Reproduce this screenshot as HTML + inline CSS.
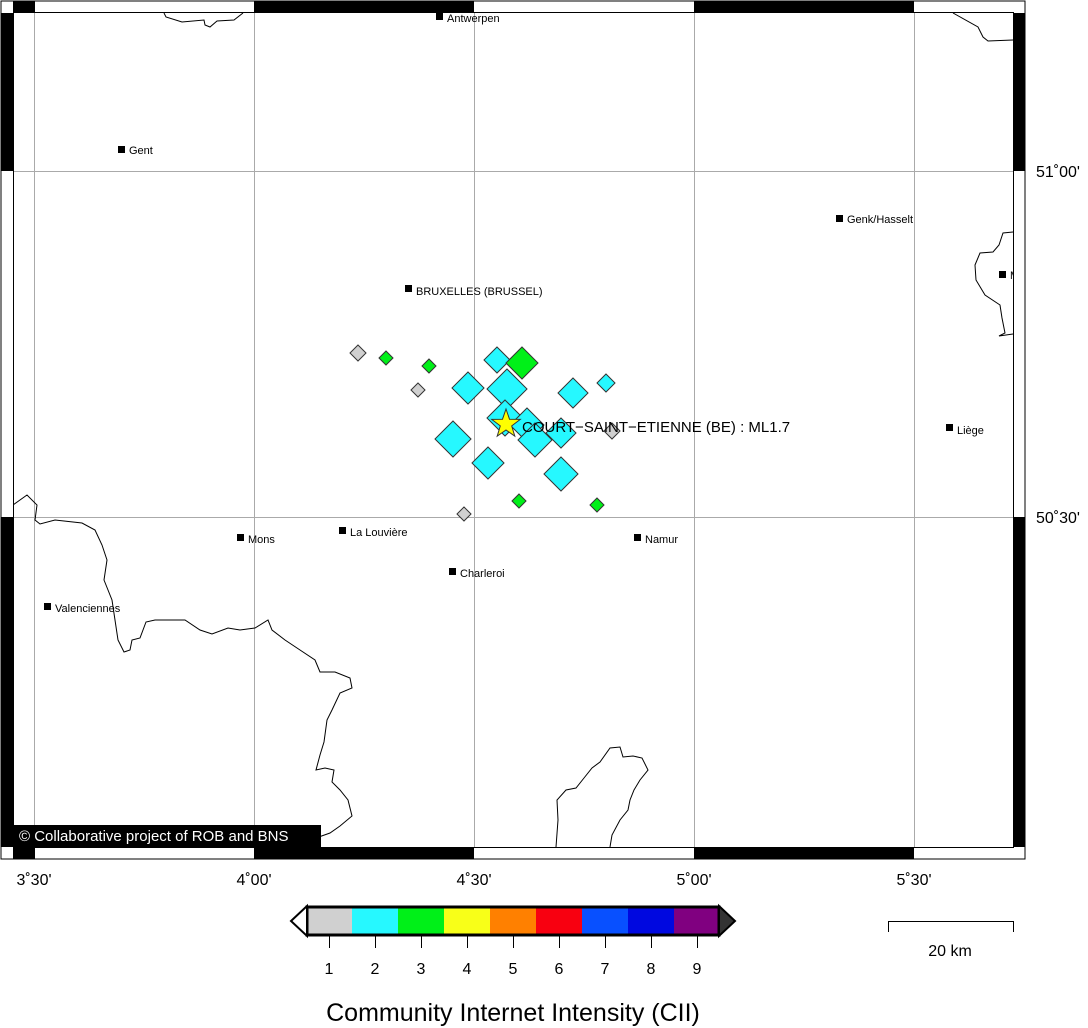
<!DOCTYPE html>
<html><head><meta charset="utf-8"><style>
html,body{margin:0;padding:0;background:#fff;}
svg{display:block;font-family:"Liberation Sans",sans-serif;}
</style></head><body>
<svg width="1088" height="1028" viewBox="0 0 1088 1028" xmlns="http://www.w3.org/2000/svg">
<defs><clipPath id="m"><rect x="13" y="13" width="1000" height="834"/></clipPath></defs>
<rect width="1088" height="1028" fill="#fff"/>
<g stroke="#aaa" stroke-width="1">
<line x1="34.5" y1="13" x2="34.5" y2="847"/><line x1="254.5" y1="13" x2="254.5" y2="847"/>
<line x1="474.5" y1="13" x2="474.5" y2="847"/><line x1="694.5" y1="13" x2="694.5" y2="847"/>
<line x1="914.5" y1="13" x2="914.5" y2="847"/>
<line x1="13" y1="171.5" x2="1013" y2="171.5"/><line x1="13" y1="517.5" x2="1013" y2="517.5"/>
</g>
<g clip-path="url(#m)">
<g fill="none" stroke="#000" stroke-width="1">
<path d="M164,13 L166,17 L182,22 L204,20 L205,25 L210,27 L217,21 L234,20 L243,13"/>
<path d="M953,13 L978,27 L983,37 L988,41 L1013,40"/>
<path d="M1013,232 L1003,233 L999,245 L993,252 L980,253 L975,265 L976,280 L985,295 L1000,305 L1002,318 L1005,333 L999,336 L1013,334"/>
<path d="M13,505 L27,495 L37,505 L35,520 L40,524 L55,520 L82,523 L95,530 L102,545 L107,560 L104,580 L112,600 L118,640 L124,652 L130,650 L132,640 L140,638 L146,622 L155,620 L185,620 L200,630 L212,634 L228,628 L240,630 L255,628 L268,620 L272,630 L285,640 L300,650 L315,660 L320,672 L335,672 L350,678 L352,688 L340,693 L332,710 L327,720 L324,742 L320,755 L316,770 L325,768 L334,770 L332,782 L340,790 L348,800 L352,816 L340,826 L330,833 L316,838 L305,840"/>
<path d="M556,847 L558,820 L557,800 L566,790 L576,788 L584,778 L592,768 L600,762 L610,748 L620,747 L623,757 L633,756 L642,758 L648,770 L640,780 L634,790 L630,800 L628,810 L620,820 L612,835 L610,847"/>
</g>
<g font-size="11" fill="#000">
<rect x="436" y="13" width="7" height="7"/><text x="447" y="22">Antwerpen</text>
<rect x="118" y="146" width="7" height="7"/><text x="129" y="154">Gent</text>
<rect x="836" y="215" width="7" height="7"/><text x="847" y="223">Genk/Hasselt</text>
<rect x="999" y="271" width="7" height="7"/><text x="1010" y="279">M</text>
<rect x="405" y="285" width="7" height="7"/><text x="416" y="295">BRUXELLES (BRUSSEL)</text>
<rect x="946" y="424" width="7" height="7"/><text x="957" y="434">Liège</text>
<rect x="237" y="534" width="7" height="7"/><text x="248" y="543">Mons</text>
<rect x="339" y="527" width="7" height="7"/><text x="350" y="536">La Louvière</text>
<rect x="634" y="534" width="7" height="7"/><text x="645" y="543">Namur</text>
<rect x="449" y="568" width="7" height="7"/><text x="460" y="577">Charleroi</text>
<rect x="44" y="603" width="7" height="7"/><text x="55" y="612">Valenciennes</text>
</g>
</g>
<g stroke="#333" stroke-width="1">
<path d="M358,345 l8,8 l-8,8 l-8,-8z" fill="#d0d0d0"/>
<path d="M386,351 l7,7 l-7,7 l-7,-7z" fill="#00f018"/>
<path d="M429,359 l7,7 l-7,7 l-7,-7z" fill="#00f018"/>
<path d="M418,383 l7,7 l-7,7 l-7,-7z" fill="#d0d0d0"/>
<path d="M497,347 l13,13 l-13,13 l-13,-13z" fill="#26f8ff"/>
<path d="M522,347 l16,16 l-16,16 l-16,-16z" fill="#00f018"/>
<path d="M468,372 l16,16 l-16,16 l-16,-16z" fill="#26f8ff"/>
<path d="M507,369 l20,20 l-20,20 l-20,-20z" fill="#26f8ff"/>
<path d="M573,378 l15,15 l-15,15 l-15,-15z" fill="#26f8ff"/>
<path d="M606,374 l9,9 l-9,9 l-9,-9z" fill="#26f8ff"/>
<path d="M561,418 l15,15 l-15,15 l-15,-15z" fill="#26f8ff"/>
<path d="M612,423 l8,8 l-8,8 l-8,-8z" fill="#d0d0d0"/>
<path d="M505,400 l18,18 l-18,18 l-18,-18z" fill="#26f8ff"/>
<path d="M527,408 l17,17 l-17,17 l-17,-17z" fill="#26f8ff"/>
<path d="M535,423 l17,17 l-17,17 l-17,-17z" fill="#26f8ff"/>
<path d="M453,421 l18,18 l-18,18 l-18,-18z" fill="#26f8ff"/>
<path d="M488,447 l16,16 l-16,16 l-16,-16z" fill="#26f8ff"/>
<path d="M561,457 l17,17 l-17,17 l-17,-17z" fill="#26f8ff"/>
<path d="M519,494 l7,7 l-7,7 l-7,-7z" fill="#00f018"/>
<path d="M597,498 l7,7 l-7,7 l-7,-7z" fill="#00f018"/>
<path d="M464,507 l7,7 l-7,7 l-7,-7z" fill="#d0d0d0"/>
</g>
<path d="M506,409 L509.5,419.2 L520.3,419.4 L511.7,425.9 L514.8,436.1 L506,430 L497.2,436.1 L500.3,425.9 L491.7,419.4 L502.5,419.2Z" fill="#ffff00" stroke="#333" stroke-width="1"/>
<text x="522" y="432" font-size="15">COURT−SAINT−ETIENNE (BE) : ML1.7</text>
<rect x="13" y="825" width="308" height="22" fill="#000"/>
<text x="19" y="841" font-size="15" fill="#fff">© Collaborative project of ROB and BNS</text>
<g>
<rect x="1" y="1" width="1024" height="858" fill="none" stroke="#000" stroke-width="1"/>
<rect x="13" y="1" width="22" height="11" fill="#000"/>
<rect x="254" y="1" width="220" height="11" fill="#000"/>
<rect x="694" y="1" width="220" height="11" fill="#000"/>
<rect x="13" y="848" width="22" height="11" fill="#000"/>
<rect x="254" y="848" width="220" height="11" fill="#000"/>
<rect x="694" y="848" width="220" height="11" fill="#000"/>
<rect x="1" y="13" width="12" height="158" fill="#000"/>
<rect x="1" y="517" width="12" height="330" fill="#000"/>
<rect x="1013" y="13" width="12" height="158" fill="#000"/>
<rect x="1013" y="517" width="12" height="330" fill="#000"/>
<rect x="13.5" y="12.5" width="1000" height="835" fill="none" stroke="#000" stroke-width="1"/>
</g>
<g font-size="16" fill="#000">
<text x="34" y="885" text-anchor="middle">3˚30'</text>
<text x="254" y="885" text-anchor="middle">4˚00'</text>
<text x="474" y="885" text-anchor="middle">4˚30'</text>
<text x="694" y="885" text-anchor="middle">5˚00'</text>
<text x="914" y="885" text-anchor="middle">5˚30'</text>
<text x="1036" y="177">51˚00'</text>
<text x="1036" y="523">50˚30'</text>
</g>
<g>
<rect x="307" y="907" width="46" height="28" fill="#d0d0d0"/>
<rect x="352" y="907" width="46" height="28" fill="#26f8ff"/>
<rect x="398" y="907" width="46" height="28" fill="#00f018"/>
<rect x="444" y="907" width="46" height="28" fill="#f8ff18"/>
<rect x="490" y="907" width="46" height="28" fill="#ff8000"/>
<rect x="536" y="907" width="46" height="28" fill="#f80010"/>
<rect x="582" y="907" width="46" height="28" fill="#0850ff"/>
<rect x="628" y="907" width="46" height="28" fill="#0008e0"/>
<rect x="674" y="907" width="45" height="28" fill="#800080"/>
<rect x="307" y="907" width="412" height="28" fill="none" stroke="#000" stroke-width="3"/>
<path d="M307,906 L291,921 L307,936Z" fill="#fff" stroke="#000" stroke-width="2"/>
<path d="M719,906 L735,921 L719,936Z" fill="#333" stroke="#000" stroke-width="2"/>
<g stroke="#000" stroke-width="1">
<line x1="329.5" y1="936" x2="329.5" y2="948"/><line x1="375.5" y1="936" x2="375.5" y2="948"/>
<line x1="421.5" y1="936" x2="421.5" y2="948"/><line x1="467.5" y1="936" x2="467.5" y2="948"/>
<line x1="513.5" y1="936" x2="513.5" y2="948"/><line x1="559.5" y1="936" x2="559.5" y2="948"/>
<line x1="605.5" y1="936" x2="605.5" y2="948"/><line x1="651.5" y1="936" x2="651.5" y2="948"/>
<line x1="697.5" y1="936" x2="697.5" y2="948"/>
</g>
<g font-size="16" text-anchor="middle">
<text x="329" y="974">1</text><text x="375" y="974">2</text><text x="421" y="974">3</text>
<text x="467" y="974">4</text><text x="513" y="974">5</text><text x="559" y="974">6</text>
<text x="605" y="974">7</text><text x="651" y="974">8</text><text x="697" y="974">9</text>
</g>
<text x="513" y="1021" font-size="25" text-anchor="middle">Community Internet Intensity (CII)</text>
</g>
<path d="M888.5,932 L888.5,921.5 L1013.5,921.5 L1013.5,932" fill="none" stroke="#000" stroke-width="1"/>
<text x="950" y="956" font-size="16" text-anchor="middle">20 km</text>
</svg>
</body></html>
